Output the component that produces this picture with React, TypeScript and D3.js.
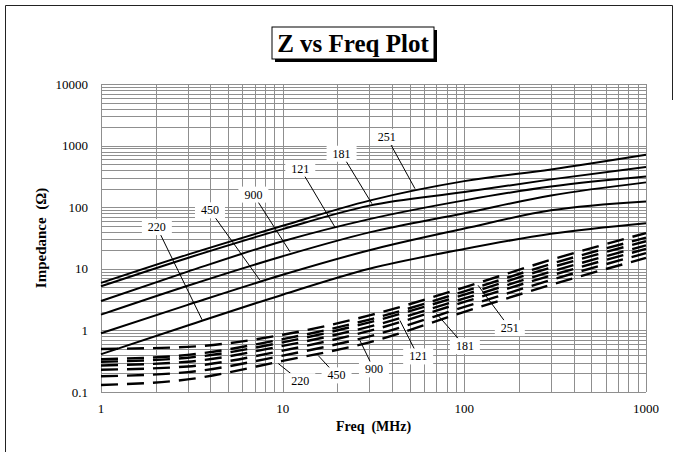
import * as d3 from "d3";

// frequencies (MHz) at which the curves were read
const freqs = [1, 3, 10, 30, 100, 300, 1000];

// solid curves: impedance Z (ohm)
const z251 = [5.9, 17, 50, 128, 265, 410, 710];
const z181 = [5.2, 15, 44, 106, 176, 283, 450];
const z121 = [3.0, 9, 28, 64, 129, 217, 315];
const z900 = [1.8, 5.3, 16, 39, 80, 155, 253];
const z450 = [0.9, 2.6, 8, 20, 45, 89, 124];
const z220 = [0.41, 1.2, 3.8, 10, 21, 37, 55];

// dashed curves
const dA = [0.5, 0.54, 0.85, 1.75, 5.0, 14, 38];
const dB = [0.34, 0.4, 0.72, 1.5, 4.3, 12, 32];
const dC = [0.31, 0.36, 0.64, 1.35, 3.8, 10.5, 28];
const dD = [0.27, 0.31, 0.56, 1.15, 3.3, 9, 24];
const dE = [0.23, 0.26, 0.47, 0.98, 2.9, 7.8, 21];
const dF = [0.18, 0.21, 0.39, 0.8, 2.4, 6.6, 18];
const dG = [0.13, 0.16, 0.32, 0.64, 2.0, 5.5, 15];

const solidSeries = [z251, z181, z121, z900, z450, z220];
const dashedSeries = [dA, dB, dC, dD, dE, dF, dG];

// callouts: text, label position (freq, Z), leader end (freq, Z)
const solidLabels = ["251", "181", "121", "900", "450", "220"];
const solidLabelAt = [[37.4, 1374], [21.1, 738], [12.5, 422], [6.9, 160], [3.98, 89], [2.03, 47.5]];
const solidLeaderTo = [[53.5, 200], [31, 114], [19.4, 47.5], [11, 18.7], [7.5, 6.5], [3.6, 1.49]];

const dashedLabels = ["220", "450", "900", "121", "181", "251"];
const dashedLabelAt = [[12.5, 0.15], [19.8, 0.186], [31.8, 0.233], [55.7, 0.378], [100.7, 0.556], [178, 1.09]];
const dashedLeaderTo = [[9.46, 0.29], [15.7, 0.39], [26.6, 0.69], [44.2, 1.45], [70.3, 1.87], [119, 5.4]];

const xTicks = [1, 10, 100, 1000];
const xTickLabels = ["1", "10", "100", "1000"];
const yTicks = [0.1, 1, 10, 100, 1000, 10000];
const yTickLabels = ["0.1", "1", "10", "100", "1000", "10000"];

const W = 680;
const H = 458;
const margin = { top: 84, right: 34, bottom: 66, left: 101 };
const FONT = "'Liberation Serif', 'Times New Roman', serif";

export default function App() {
  const x = d3.scaleLog().domain([1, 1000]).range([margin.left, W - margin.right]);
  const y = d3.scaleLog().domain([0.1, 10000]).range([H - margin.bottom, margin.top]);

  const line = d3
    .line<number>()
    .x((_, i) => x(freqs[i]))
    .y((d) => y(d))
    .curve(d3.curveMonotoneX);

  const gridX = x.ticks();
  const gridY = y.ticks();

  const callout = (txt: string, at: number[], to: number[], key: string) => {
    const cx = x(at[0]);
    const cy = y(at[1]);
    return (
      <g key={key}>
        <line x1={cx} y1={cy} x2={x(to[0])} y2={y(to[1])} stroke="#000" strokeWidth={1} />
        <rect x={cx - 15} y={cy - 8} width={30} height={16} fill="#fff" />
        <text x={cx} y={cy + 4} textAnchor="middle" fontSize={12} fontFamily={FONT}>
          {txt}
        </text>
      </g>
    );
  };

  return (
    <svg width={W} height={H} style={{ position: "absolute", left: 0, top: 0 }}>
      <rect x={0} y={0} width={W} height={H} fill="#fff" />
      {/* frame: top and left edges, short piece on the right */}
      <g stroke="#222" strokeWidth={1} fill="none">
        <path d="M5.5,452 V5.5 H672.5 V100" />
      </g>

      {/* title */}
      <rect x={275} y={30} width={162} height={32} fill="#000" />
      <rect x={272} y={27} width={162} height={32} fill="#fff" stroke="#000" strokeWidth={1} />
      <text x={353} y={52} textAnchor="middle" fontSize={25} fontWeight="bold" fontFamily={FONT}>
        Z vs Freq Plot
      </text>

      {/* grid */}
      <g stroke="#8f8f8f" strokeWidth={1}>
        {gridX.map((t, i) => (
          <line key={"gx" + i} x1={Math.round(x(t)) + 0.5} x2={Math.round(x(t)) + 0.5} y1={y(0.1)} y2={y(10000)} />
        ))}
        {gridY.map((t, i) => (
          <line key={"gy" + i} y1={Math.round(y(t)) + 0.5} y2={Math.round(y(t)) + 0.5} x1={x(1)} x2={x(1000)} />
        ))}
      </g>

      {/* curves */}
      <g fill="none" stroke="#000">
        {solidSeries.map((s, i) => (
          <path key={"s" + i} d={line(s) || ""} strokeWidth={2} />
        ))}
        {dashedSeries.map((s, i) => (
          <path key={"d" + i} d={line(s) || ""} strokeWidth={2.4} strokeDasharray="17,9" />
        ))}
      </g>

      {/* callouts */}
      {solidLabels.map((t, i) => callout(t, solidLabelAt[i], solidLeaderTo[i], "sl" + i))}
      {dashedLabels.map((t, i) => callout(t, dashedLabelAt[i], dashedLeaderTo[i], "dl" + i))}

      {/* tick labels */}
      {yTicks.map((t, i) => (
        <text key={"yt" + i} x={x(1) - 13} y={y(t) + 4.5} textAnchor="end" fontSize={13} fontFamily={FONT}>
          {yTickLabels[i]}
        </text>
      ))}
      {xTicks.map((t, i) => (
        <text key={"xt" + i} x={x(t)} y={y(0.1) + 21} textAnchor="middle" fontSize={13} fontFamily={FONT}>
          {xTickLabels[i]}
        </text>
      ))}

      {/* axis titles */}
      <text
        x={(x(1) + x(1000)) / 2}
        y={431}
        textAnchor="middle"
        fontSize={14}
        fontWeight="bold"
        fontFamily={FONT}
        style={{ whiteSpace: "pre" }}
      >
        {"Freq  (MHz)"}
      </text>
      <text
        transform={`translate(46,${(y(0.1) + y(10000)) / 2}) rotate(-90)`}
        textAnchor="middle"
        fontSize={15}
        fontWeight="bold"
        fontFamily={FONT}
        style={{ whiteSpace: "pre" }}
      >
        {"Impedance  (Ω)"}
      </text>
    </svg>
  );
}
